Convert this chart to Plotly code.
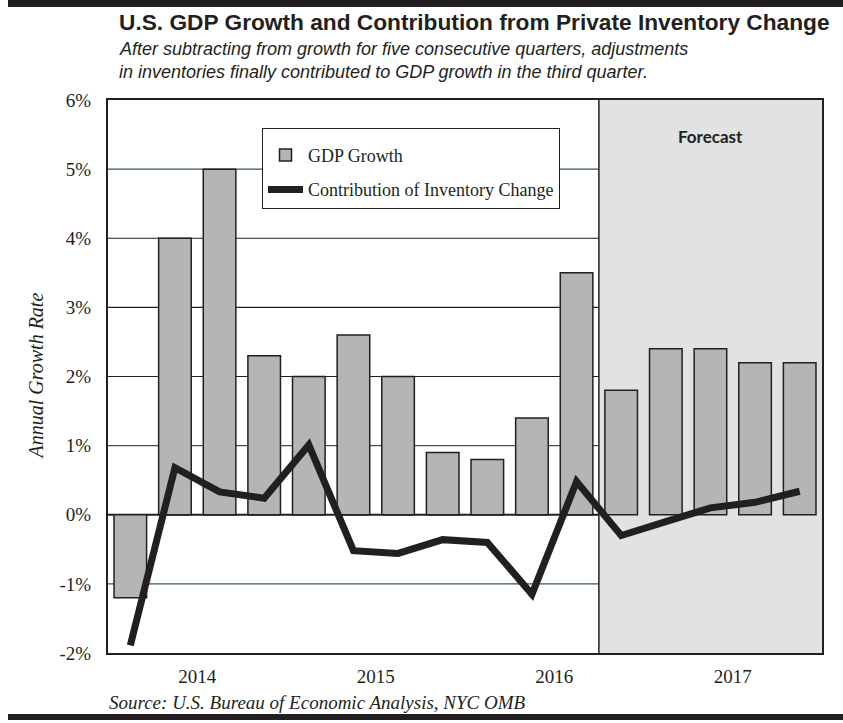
import plotly.graph_objects as go

# ---- data ----
quarters = ["2014Q1", "2014Q2", "2014Q3", "2014Q4",
            "2015Q1", "2015Q2", "2015Q3", "2015Q4",
            "2016Q1", "2016Q2", "2016Q3", "2016Q4",
            "2017Q1", "2017Q2", "2017Q3", "2017Q4"]
gdp_growth = [-1.2, 4.0, 5.0, 2.3, 2.0, 2.6, 2.0, 0.9,
              0.8, 1.4, 3.5, 1.8, 2.4, 2.4, 2.2, 2.2]
inventory_contrib = [-1.89, 0.68, 0.33, 0.24, 1.01, -0.52, -0.56, -0.36,
                     -0.40, -1.15, 0.48, -0.30, -0.10, 0.10, 0.18, 0.34]
year_labels = ["2014", "2015", "2016", "2017"]
y_ticks = [-2, -1, 0, 1, 2, 3, 4, 5, 6]
y_tick_labels = ["-2%", "-1%", "0%", "1%", "2%", "3%", "4%", "5%", "6%"]
forecast_start_index = 11  # 2016Q4 onward is forecast

# ---- layout geometry (pixels) ----
W, H = 843, 723
L, R, T, B = 108, 822, 100, 653


def px(xp):
    return (xp - L) / (R - L)


def py(yp):
    return (B - yp) / (B - T)


xidx = list(range(len(quarters)))
year_pos = [4 * i + 1.5 for i in range(len(year_labels))]

ink = "#231f20"
serif = "Liberation Serif, Times New Roman, serif"
sans = "Liberation Sans, Arial, sans-serif"

fig = go.Figure()
fig.add_trace(go.Bar(
    x=xidx, y=gdp_growth, name="GDP Growth", width=0.73, legendgroup="a",
    marker=dict(color="#b4b5b7", line=dict(color=ink, width=1.5)),
))
fig.add_trace(go.Scatter(
    x=xidx, y=inventory_contrib, name="Contribution of Inventory Change",
    legendgroup="b", mode="lines", line=dict(color=ink, width=7),
))

shapes = []
# forecast shading
shapes.append(dict(type="rect", xref="x", yref="y",
                   x0=forecast_start_index - 0.5, x1=len(quarters) - 0.5,
                   y0=-2, y1=6, fillcolor="#e1e2e4", line=dict(width=0),
                   layer="below"))
# gridlines
grid_vals = [-1, 1, 2, 3, 4, 5]
grid_cols = ["#2f5666", "#2f5666", ink, ink, ink, "#2f5666"]
for v, c in zip(grid_vals, grid_cols):
    shapes.append(dict(type="line", xref="paper", yref="y", x0=0, x1=1,
                       y0=v, y1=v, line=dict(color=c, width=1.2),
                       layer="between"))
# zero line
shapes.append(dict(type="line", xref="paper", yref="y", x0=0, x1=1,
                   y0=0, y1=0, line=dict(color=ink, width=2),
                   layer="between"))
# forecast divider
shapes.append(dict(type="line", xref="x", yref="y",
                   x0=forecast_start_index - 0.5, x1=forecast_start_index - 0.5,
                   y0=-2, y1=6, line=dict(color=ink, width=1.5),
                   layer="between"))
# top and bottom rules
shapes.append(dict(type="rect", xref="paper", yref="paper",
                   x0=px(8), x1=px(843), y0=py(7), y1=py(0),
                   fillcolor=ink, line=dict(width=0)))
shapes.append(dict(type="rect", xref="paper", yref="paper",
                   x0=px(8), x1=px(843), y0=py(720), y1=py(714),
                   fillcolor=ink, line=dict(width=0)))

annotations = [
    dict(text="<b>U.S. GDP Growth and Contribution from Private Inventory Change</b>",
         xref="paper", yref="paper", x=px(117), y=py(22), xanchor="left",
         yanchor="middle", showarrow=False,
         font=dict(family=sans, size=22.7, color=ink)),
    dict(text="<i>After subtracting from growth for five consecutive quarters, adjustments</i>",
         xref="paper", yref="paper", x=px(117), y=py(49), xanchor="left",
         yanchor="middle", showarrow=False,
         font=dict(family=sans, size=18, color=ink)),
    dict(text="<i>in inventories finally contributed to GDP growth in the third quarter.</i>",
         xref="paper", yref="paper", x=px(117), y=py(72), xanchor="left",
         yanchor="middle", showarrow=False,
         font=dict(family=sans, size=18, color=ink)),
    dict(text="<b>Forecast</b>", xref="x", yref="paper",
         x=(forecast_start_index - 0.5 + len(quarters) - 0.5) / 2, y=py(136),
         xanchor="center", yanchor="middle", showarrow=False,
         font=dict(family="Lato, sans-serif", size=17, color=ink)),
    dict(text="<i>Annual Growth Rate</i>", xref="paper", yref="paper",
         x=px(35), y=0.5, textangle=-90, xanchor="center", yanchor="middle",
         showarrow=False, font=dict(family=serif, size=20, color=ink)),
    dict(text="<i>Source: U.S. Bureau of Economic Analysis, NYC OMB</i>",
         xref="paper", yref="paper", x=px(107), y=py(702), xanchor="left",
         yanchor="middle", showarrow=False,
         font=dict(family=serif, size=19, color=ink)),
]

fig.update_layout(
    width=W, height=H,
    margin=dict(l=L, r=W - R, t=T, b=H - B, autoexpand=False),
    paper_bgcolor="white", plot_bgcolor="white",
    showlegend=True,
    legend=dict(x=px(262), y=py(128), xanchor="left", yanchor="top",
                bgcolor="white", bordercolor=ink, borderwidth=1,
                font=dict(family=serif, size=18, color=ink),
                title=dict(text=" ", font=dict(size=6)),
                itemwidth=35, traceorder="grouped", tracegroupgap=8),
    shapes=shapes, annotations=annotations,
    xaxis=dict(range=[-0.5, len(quarters) - 0.5], tickvals=year_pos,
               ticktext=year_labels, showgrid=False, zeroline=False,
               showline=True, linecolor=ink, linewidth=2, mirror=True,
               ticks="", ticklabelstandoff=5,
               tickfont=dict(family=serif, size=19, color=ink)),
    yaxis=dict(range=[-2, 6], tickvals=y_ticks, ticktext=y_tick_labels,
               showgrid=False, zeroline=False, showline=True, linecolor=ink,
               linewidth=2, mirror=True, ticks="", ticklabelstandoff=11,
               tickfont=dict(family=serif, size=19, color=ink)),
)

fig.write_html("out.html")
